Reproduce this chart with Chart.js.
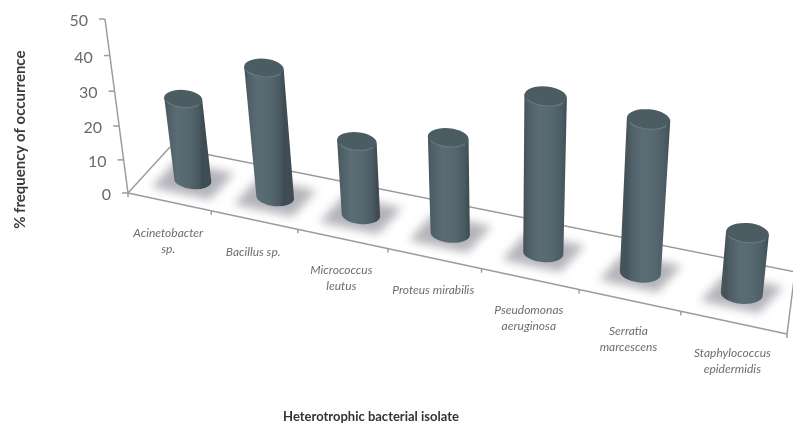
<!DOCTYPE html>
<html><head><meta charset="utf-8">
<style>html,body{margin:0;padding:0;background:#fff}canvas{display:block;filter:blur(.45px)}</style>
<script src="https://cdn.jsdelivr.net/npm/chart.js@4"></script>
</head><body><canvas id="c" width="793" height="425"></canvas>
<script>
const categories = ["Acinetobacter sp.","Bacillus sp.","Micrococcus leutus","Proteus mirabilis","Pseudomonas aeruginosa","Serratia marcescens","Staphylococcus epidermidis"];
const categoryLines = [["Acinetobacter","sp."],["Bacillus sp."],["Micrococcus","leutus"],["Proteus mirabilis"],["Pseudomonas","aeruginosa"],["Serratia","marcescens"],["Staphylococcus","epidermidis"]];
const frequency = [24,37,21.2,27,42.6,41.3,16.7];
const yTitle = "% frequency of occurrence";
const xTitle = "Heterotrophic bacterial isolate";

// perspective view of the flat plot area: corners of the front wall on screen
const Q = {x0:128,y0:193,x1:787,y1:334,x2:809,y2:142,x3:105,y3:19};
const view = (()=>{const {x0,y0,x1,y1,x2,y2,x3,y3}=Q;
  const dx1=x1-x2,dx2=x3-x2,sx=x0-x1+x2-x3,dy1=y1-y2,dy2=y3-y2,sy=y0-y1+y2-y3;
  const den=dx1*dy2-dx2*dy1,g=(sx*dy2-dx2*sy)/den,h=(dx1*sy-sx*dy1)/den;
  return {g,h,a:x1-x0+g*x1,b:x3-x0+h*x3,c:x0,d:y1-y0+g*y1,e:y3-y0+h*y3,f:y0};})();
const wOf=(s,t)=>view.g*s+view.h*t+1;
function project(s,t,depth=0){const v=view,w=wOf(s,t);
  return {x:(v.a*s+v.b*t+v.c)/w+depth*(42-34*s), y:(v.d*s+v.e*t+v.f)/w+depth*(-46-16*s)};}
const onBar=(s,t)=>{const p=project(s,t,.52);return {x:p.x+3,y:p.y+3};};

const AXIS='#9c9c9c';
const scene={id:'scene',
  beforeDatasetsDraw(chart){
    const {ctx,chartArea:A,scales:{x:X,y:Y}}=chart;
    const sOf=px=>(px-A.left)/(A.right-A.left), tOf=py=>(A.bottom-py)/(A.bottom-A.top);
    ctx.save();
    ctx.strokeStyle=AXIS;ctx.lineWidth=1.5;
    const seg=(a,b)=>{ctx.beginPath();ctx.moveTo(a.x,a.y);ctx.lineTo(b.x,b.y);ctx.stroke();};
    seg(project(0,0),project(1,0));
    seg(project(0,0),project(0,0,1));
    seg(project(0,0,1),project(1,0,1));
    seg(project(1,0),project(1,0,1));
    seg(project(0,0),project(0,1));
    ctx.fillStyle='#6a6a6a';ctx.font='16px Lato';ctx.textAlign='right';ctx.textBaseline='middle';
    Y.ticks.forEach(tk=>{const p=project(0,tOf(Y.getPixelForValue(tk.value)));
      seg({x:p.x-6,y:p.y},p);
      ctx.fillText(String(tk.value),p.x-17,p.y+2);});
    const n=categories.length;
    for(let i=0;i<=n;i++){const p=project(i/n,0);seg(p,{x:p.x,y:p.y+4});}
    ctx.fillStyle='#6e6e6e';ctx.font='italic 12px Lato';ctx.textAlign='center';
    categoryLines.forEach((lines,i)=>{
      const p=project(sOf(X.getPixelForTick(i)),0);
      const off=lines.length===2?39:32;
      lines.forEach((l,k)=>ctx.fillText(l,p.x-1,p.y+off+(k-(lines.length-1)/2)*16));
    });
    ctx.restore();
  },
  afterDatasetsDraw(chart){
    const {ctx,chartArea:A}=chart;
    const sOf=px=>(px-A.left)/(A.right-A.left), tOf=py=>(A.bottom-py)/(A.bottom-A.top);
    const bars=chart.getDatasetMeta(0).data;
    const ROT=.09;
    bars.forEach(b=>{
      const s=sOf(b.x),p=onBar(s,0);
      const ax=29,ay=ax*.21,bx=12,by=-13;
      ctx.save();ctx.filter='blur(5px)';ctx.fillStyle='rgba(122,122,135,.58)';
      ctx.beginPath();
      ctx.moveTo(p.x-ax-bx,p.y-ay-by);ctx.lineTo(p.x+ax-bx,p.y+ay-by);
      ctx.lineTo(p.x+ax+bx,p.y+ay+by);ctx.lineTo(p.x-ax+bx,p.y-ay+by);
      ctx.closePath();ctx.fill();ctx.restore();
    });
    bars.forEach(b=>{
      const s=sOf(b.x),t=tOf(b.y);
      const B=onBar(s,0),T=onBar(s,t);
      const rB=b.width/2/wOf(s,0),rT=b.width/2/wOf(s,t),hB=rB*.47,hT=rT*.47;
      const c=Math.cos(ROT),n=Math.sin(ROT);
      ctx.save();
      const g=ctx.createLinearGradient(T.x-rT,0,T.x+rT,0);
      g.addColorStop(0,'#465359');g.addColorStop(.1,'#4f5f67');g.addColorStop(.35,'#5a6c74');
      g.addColorStop(.65,'#55676f');g.addColorStop(.9,'#4a5a62');g.addColorStop(1,'#3f4c53');
      ctx.fillStyle=g;
      ctx.beginPath();
      ctx.moveTo(T.x-rT*c,T.y-rT*n);
      ctx.lineTo(B.x-rB*c,B.y-rB*n);
      ctx.ellipse(B.x,B.y,rB,hB,ROT,Math.PI,0,true);
      ctx.lineTo(T.x+rT*c,T.y+rT*n);
      ctx.closePath();ctx.fill();
      ctx.fillStyle='#4c5c63';
      ctx.beginPath();ctx.ellipse(T.x,T.y,rT,hT,ROT,0,Math.PI*2);ctx.fill();
      ctx.strokeStyle='rgba(130,150,155,.5)';ctx.lineWidth=1.2;
      ctx.beginPath();ctx.ellipse(T.x,T.y,rT-.5,hT-.5,ROT,0.5,Math.PI-.5);ctx.stroke();
      ctx.restore();
    });
  }
};

new Chart(document.getElementById('c'),{
  type:'bar',
  data:{labels:categories,datasets:[{label:yTitle,data:frequency,backgroundColor:'rgba(0,0,0,0)',categoryPercentage:1,barPercentage:.386}]},
  plugins:[scene],
  options:{
    responsive:false,animation:false,devicePixelRatio:1,
    layout:{padding:{left:11,right:88,top:28,bottom:0}},
    plugins:{legend:{display:false},tooltip:{enabled:false}},
    scales:{
      x:{grid:{display:false},border:{display:false},ticks:{display:false},
        title:{display:true,text:xTitle,color:'#333',font:{family:'Lato',size:13,weight:'bold'},padding:{top:150,bottom:0}}},
      y:{min:0,max:50,grid:{display:false},border:{display:false},ticks:{display:false,stepSize:10},
        title:{display:true,text:yTitle,color:'#3a3a3a',font:{family:'Lato',size:15,weight:'bold'},padding:0}}
    }
  }
});
</script></body></html>
